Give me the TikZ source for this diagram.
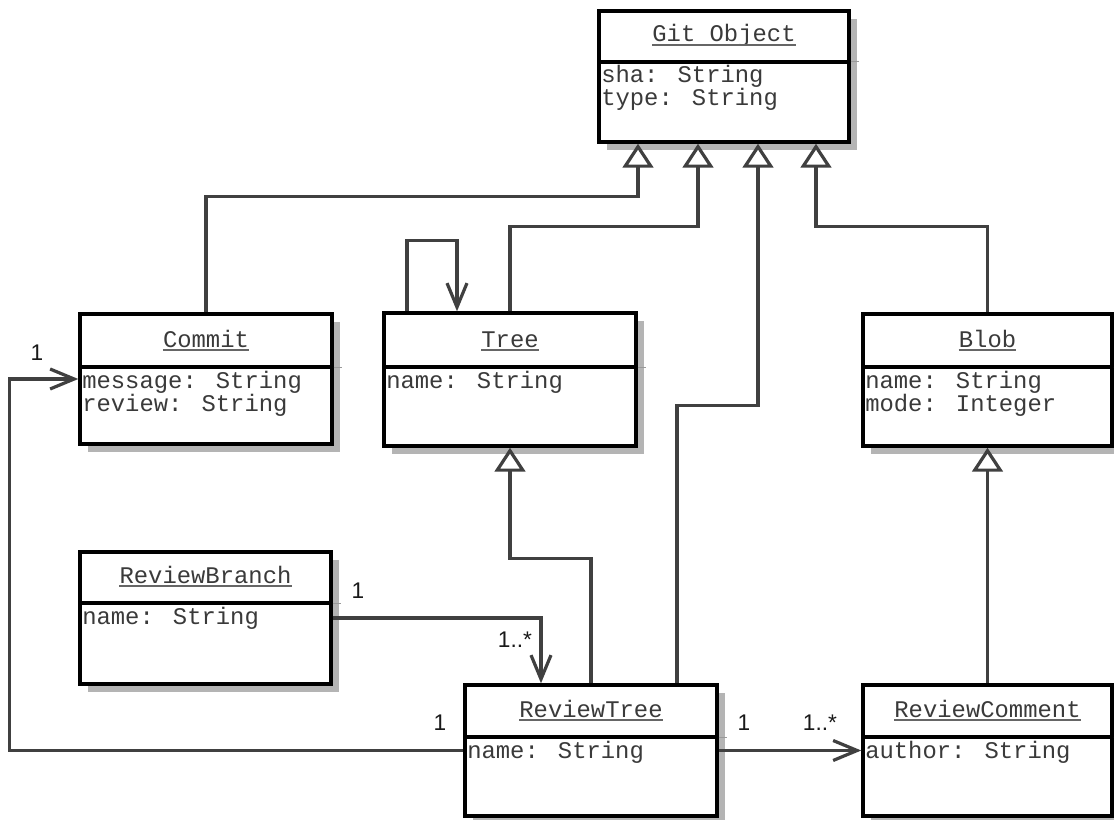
\documentclass[tikz,border=0pt]{standalone}
\usepackage{fontspec}
\newfontfamily\umlmono{Liberation Mono}
\newfontfamily\umllabel{Liberation Sans}
\usetikzlibrary{arrows.meta,calc}
\definecolor{shadowc}{HTML}{B4B4B4}
\definecolor{linec}{HTML}{404040}
\definecolor{textc}{HTML}{3A3A3A}
\tikzset{
  classbox/.style={draw=black, line width=2.6pt, fill=white, inner sep=0pt, rectangle},
  divline/.style={draw=black, line width=2.6pt},
  tickline/.style={draw=black!40, line width=0.75pt},
  titletext/.style={font=\umlmono\fontsize{17.9pt}{23pt}\selectfont, text=textc, anchor=base, inner sep=0pt},
  attrtext/.style={font=\umlmono\fontsize{17.9pt}{23pt}\selectfont, text=textc, anchor=base west, inner sep=0pt},
  uline/.style={draw=black!60, line width=1.6pt},
  conn/.style={draw=linec, line width=2.4pt},
  gen/.style={conn, -{Triangle[open, length=18pt, width=23pt, fill=white]}},
  assoc/.style={conn, -{Straight Barb[length=18pt, width=15pt]}},
  mult/.style={font=\umllabel\fontsize{17pt}{20pt}\selectfont, text=black!90, inner sep=0pt},
}
\newcommand{\umlclass}[8]{%
  \fill[shadowc] ({#2+8},{#3+8}) rectangle ({#4+8},{#5+8});
  \node[classbox, minimum width={(#4-#2)*0.75pt}, minimum height={(#5-#3)*0.75pt}] (#1) at ({(#2+#4)/2},{(#3+#5)/2}) {};
  \draw[divline] (#1.west |- 0,#6) -- (#1.east |- 0,#6);
  \draw[tickline] (#1.east |- 0,#6) -- ++(8,0);
  \node[titletext] (#1-title) at ({(#2+#4)/2},{#6-20}) {#7};
  \draw[uline] ([yshift=-2.4pt]#1-title.base west) -- ([yshift=-2.4pt]#1-title.base east);
  \foreach \attr [count=\k] in {#8} {
    \node[attrtext] (#1-attr\k) at ({#2+2},{#6+21+(\k-1)*23}) {\attr};
  }
}
\begin{document}
\begin{tikzpicture}[x=0.75pt, y=-0.75pt]
\useasboundingbox (0,0) rectangle (1114,820);
\fill[white] (0,0) rectangle (1114,820);

\umlclass{gitobject}{599}{11}{849}{142}{62}{Git Object}{sha: String, type: String}
\umlclass{commit}{80}{314}{332}{444}{367}{Commit}{message: String, review: String}
\umlclass{tree}{384}{313}{636}{446}{367}{Tree}{name: String}
\umlclass{blob}{863}{314}{1112}{446}{367}{Blob}{name: String, mode: Integer}
\umlclass{rbranch}{80}{552}{331}{684}{603}{ReviewBranch}{name: String}
\umlclass{rtree}{465}{685}{717}{816}{737}{ReviewTree}{name: String}
\umlclass{rcomment}{863}{685}{1112}{816}{737}{ReviewComment}{author: String}

% generalizations
\draw[gen] (commit.north) -- ++(0,-116) -| ($(gitobject.south)+(-86,0)$);
\draw[gen] (tree.north) -- ++(0,-85) -| ($(gitobject.south)+(-26,0)$);
\draw[gen] ($(rtree.north)+(86,0)$) -- ++(0,-278) -| ($(gitobject.south)+(34,0)$);
\draw[gen] (blob.north) -- ++(0,-86) -| ($(gitobject.south)+(92,0)$);
\draw[gen] (rtree.north) -- ++(0,-125) -| (tree.south);
\draw[gen] (rcomment.north) -- (blob.south);

% associations
\draw[assoc] ($(tree.north)+(-103,0)$) -- ++(0,-71) -| ($(tree.north)+(-53,0)$);
\draw[assoc] (rbranch.east) -| ($(rtree.north)+(-50,0)$);
\draw[assoc] (rtree.west) -- ++(-454,0) |- (commit.west);
\draw[assoc] (rtree.east) -- (rcomment.west);

% multiplicities
\node[mult] (m1) at (37,353) {1};
\node[mult] (m2) at (358,591) {1};
\node[mult] (m3) at (515,640) {1..*};
\node[mult] (m4) at (440,723) {1};
\node[mult] (m5) at (744,723) {1};
\node[mult] (m6) at (820,723) {1..*};
\end{tikzpicture}
\end{document}
